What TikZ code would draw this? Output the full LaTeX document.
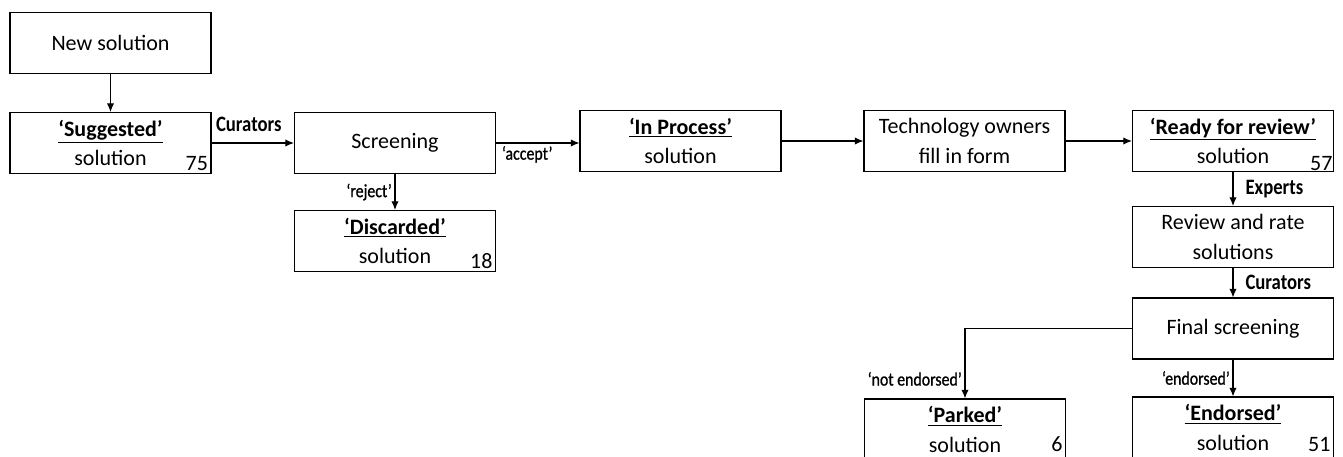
\documentclass[tikz,border=0pt]{standalone}
\usepackage{fontspec}
\setmainfont{Carlito}
\newfontfamily\lblfont[FakeStretch=0.85,FakeBold=1]{Carlito}
\newfontfamily\whofont[FakeStretch=0.85]{Carlito}
\usetikzlibrary{arrows.meta}
\tikzstyle{box}=[rectangle, draw, line width=0.8pt, minimum width=150.75pt, minimum height=45.75pt, align=center, inner sep=0pt, font=\fontsize{16.5}{22}\selectfont]
\tikzstyle{lbl}=[inner sep=2pt, font=\lblfont\fontsize{14}{16}\selectfont]
\tikzstyle{who}=[inner sep=3pt, font=\whofont\bfseries\fontsize{16.5}{18}\selectfont]
\tikzstyle{num}=[inner sep=2.5pt, font=\fontsize{16.5}{20}\selectfont]
\tikzstyle{arr}=[line width=0.8pt, -{Latex[length=6.5pt,width=5.5pt]}]
\newcommand{\ttl}[1]{\underline{\textbf{#1}}}

\begin{document}
\begin{tikzpicture}[x=0.75pt,y=-0.75pt]
\useasboundingbox (0,0) rectangle (1343,457);
\clip (0,0) rectangle (1343,457);
\node[box] (new) at (110.5,43) {New solution};
\node[box] (sug) at (110.5,143) {\ttl{‘Suggested’}\\solution};
\node[box] (scr) at (395,143) {Screening};
\node[box] (dis) at (395,241) {\ttl{‘Discarded’}\\solution};
\node[box] (inp) at (680.5,141) {\ttl{‘In Process’}\\solution};
\node[box] (tech) at (964.5,141) {Technology owners\\fill in form};
\node[box] (rdy) at (1233,141) {\ttl{‘Ready for review’}\\solution};
\node[box] (rev) at (1233,237) {Review and rate\\solutions};
\node[box] (fin) at (1233,328.5) {Final screening};
\node[box] (endo) at (1233,427.5) {\ttl{‘Endorsed’}\\solution};
\node[box] (park) at (965,429.5) {\ttl{‘Parked’}\\solution};
\node[num, anchor=south east] (n75) at (sug.south east) {75};
\node[num, anchor=south east] (n18) at (dis.south east) {18};
\node[num, anchor=south east, inner sep=1pt] (n57) at (rdy.south east) {57};
\node[num, anchor=east, yshift=-12.75pt] (n51) at (endo.east) {51};
\node[num, anchor=east, yshift=-11.25pt] (n6) at (park.east) {6};
\draw[arr] (new) -- (sug);
\draw[arr] (sug) -- node[who, above=5pt, xshift=-3pt] (cur1) {Curators} (scr);
\draw[arr] (scr) -- node[lbl, left] (rej) {‘reject’} (dis);
\draw[arr] (scr.east) -- node[lbl, pos=0, anchor=north west, xshift=2pt] (acc) {‘accept’} (scr.east -| inp.west);
\draw[arr] (inp) -- (tech);
\draw[arr] (tech) -- (rdy);
\draw[arr] (rdy) -- node[who, right=6pt] (exp) {Experts} (rev);
\draw[arr] (rev) -- node[who, right=6pt] (cur2) {Curators} (fin);
\draw[arr] (fin) -- node[lbl, left] (endl) {‘endorsed’} (endo);
\draw[arr] (fin.west) -| node[lbl, pos=0.86, left] (notl) {‘not endorsed’} (park.north);
\end{tikzpicture}
\end{document}
